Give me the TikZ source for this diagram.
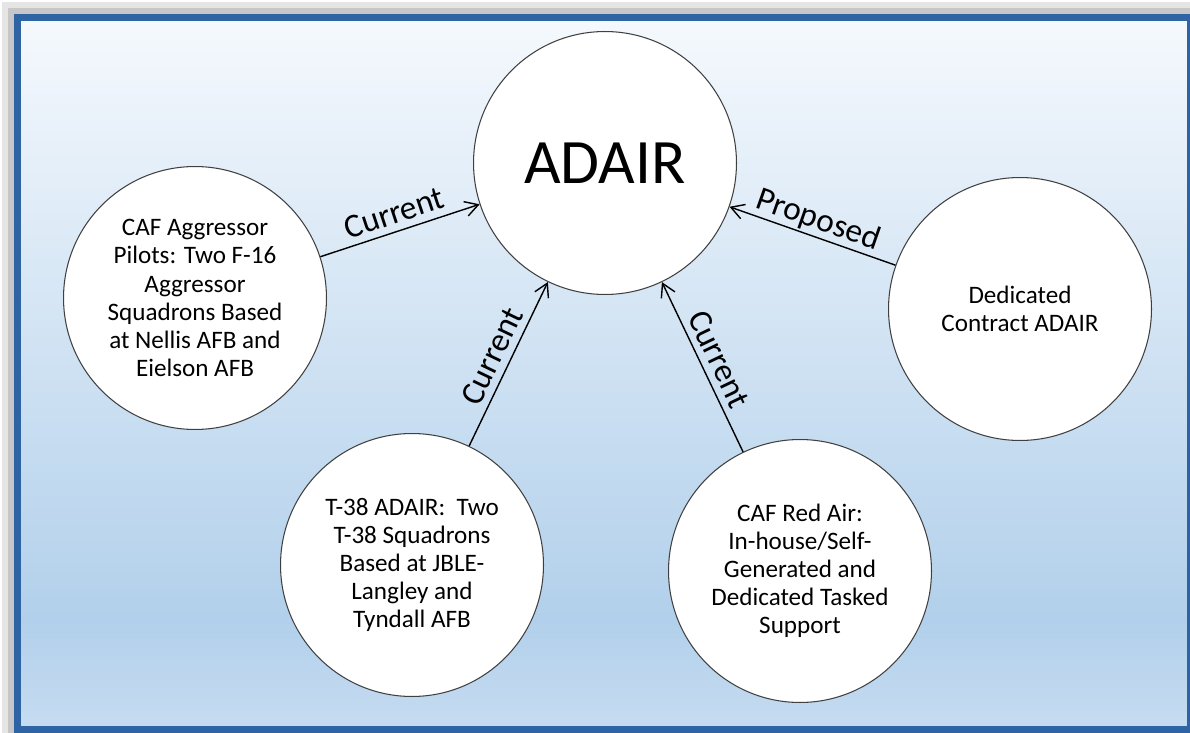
\documentclass[tikz,border=0pt]{standalone}
\usepackage{fontspec}
\setmainfont{Carlito}
\usetikzlibrary{arrows.meta}
\tikzset{>={Straight Barb[length=2.6mm,width=3mm]}}

\definecolor{frameblue}{HTML}{2F64A4}
\definecolor{bgtop}{HTML}{F5F9FD}
\definecolor{bgmid}{HTML}{B2D0EB}
\definecolor{bgbot}{HTML}{C6DCF1}

\tikzset{
  topic/.style={circle, draw=black!75, line width=0.6pt, fill=white,
    minimum size=5.26cm, inner sep=0pt, align=center,
    font=\fontsize{14.3}{16}\selectfont},
  link/.style={->, line width=0.8pt},
  linklabel/.style={midway, above, sloped, inner sep=4pt, text depth=0pt,
    font=\fontsize{19}{21}\selectfont}
}

\begin{document}
\begin{tikzpicture}[x=0.02cm, y=-0.02cm]
    \useasboundingbox (0,0) rectangle (1190,733);

    % shadow, background and frame
    \fill[black!10] (2,2) rectangle (1190,733);
    \fill[black!22] (8,8) rectangle (1190,733);
    \shade[top color=bgtop, bottom color=bgmid] (17,17) rectangle (1190,620);
    \shade[top color=bgmid, bottom color=bgbot] (17,619.5) rectangle (1190,730);
    \draw[frameblue, line width=0.14cm] (17.5,17.5) rectangle (1190.5,729.5);

    \node[topic] at (605,163) (adair) {\fontsize{36}{40}\selectfont ADAIR};

    \node[topic] at (195,298) (aggressor) {CAF Aggressor\\Pilots: Two F-16\\Aggressor\\Squadrons Based\\at Nellis AFB and\\Eielson AFB};
    \node[topic] at (1020,309) (contract) {Dedicated\\Contract ADAIR};
    \node[topic] at (412,565) (talon) {T-38 ADAIR:~~Two\\T-38 Squadrons\\Based at JBLE-\\Langley and\\Tyndall AFB};
    \node[topic] at (800,571) (redair) {CAF Red Air:\\In-house/Self-\\Generated and\\Dedicated Tasked\\Support};

    \draw[link] (aggressor) -- node[linklabel] {Current} (adair);
    \draw[link] (talon) -- node[linklabel] {Current} (adair);
    \draw[link] (redair) -- node[linklabel] {Current} (adair);
    \draw[link] (contract) -- node[linklabel] {Proposed} (adair);

\end{tikzpicture}
\end{document}
